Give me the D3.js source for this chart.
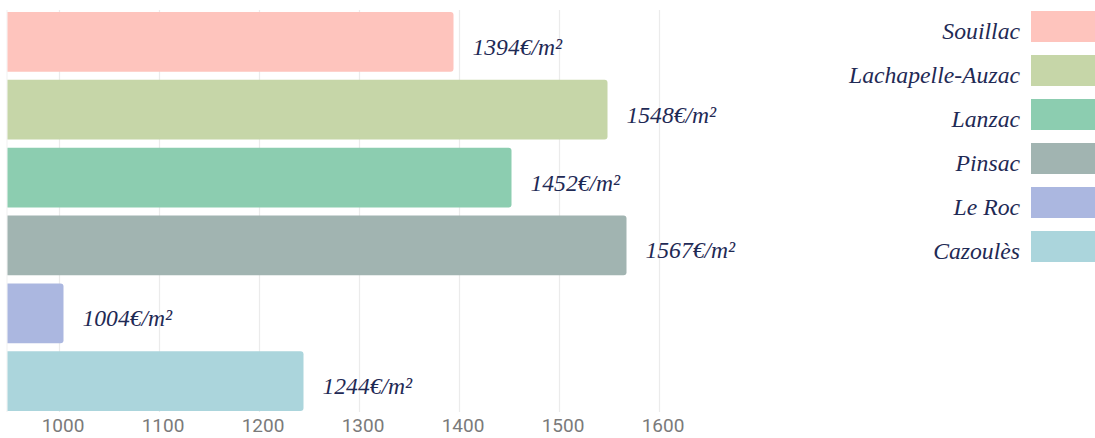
<!DOCTYPE html>
<html>
<head>
<meta charset="utf-8">
<script src="https://cdn.jsdelivr.net/npm/d3@7"></script>
<style>
  html, body { margin: 0; padding: 0; background: #ffffff; }
  svg { display: block; }
</style>
</head>
<body>
<svg id="chart" width="1095" height="438"></svg>
<script>
// Average price per square metre by commune
const communes = ["Souillac", "Lachapelle-Auzac", "Lanzac", "Pinsac", "Le Roc", "Cazoulès"];
const prices = [1394, 1548, 1452, 1567, 1004, 1244];
const colors = ["#fec4bd", "#c6d6a8", "#8ccdb0", "#a1b4b1", "#abb7e0", "#abd5dc"];
const tickValues = [1000, 1100, 1200, 1300, 1400, 1500, 1600];
const unit = "€/m²";

const svg = d3.select("#chart");
const textColor = "#1f2a55";
const serif = "'Liberation Serif', 'DejaVu Serif', serif";

const x = d3.scaleLinear().domain([948, 1680]).range([7.5, 739.5]);
const y = d3.scaleBand().domain(communes).range([12, 411]).paddingInner(0.12).paddingOuter(0);

// vertical gridlines
const grid = svg.append("g");
grid.selectAll("line.grid")
  .data(tickValues)
  .join("line")
  .attr("class", "grid")
  .attr("x1", d => x(d)).attr("x2", d => x(d))
  .attr("y1", 10).attr("y2", 412)
  .attr("stroke", "#ebebeb").attr("stroke-width", 1.2);
grid.append("line")
  .attr("x1", x.range()[0] - 0.5).attr("x2", x.range()[0] - 0.5)
  .attr("y1", 10).attr("y2", 412)
  .attr("stroke", "#f1f1f1").attr("stroke-width", 1);

// bars with rounded right end
const r = 3;
function barPath(x0, x1, y0, h) {
  return `M${x0},${y0}H${x1 - r}Q${x1},${y0} ${x1},${y0 + r}V${y0 + h - r}Q${x1},${y0 + h} ${x1 - r},${y0 + h}H${x0}Z`;
}
svg.append("g").selectAll("path")
  .data(communes)
  .join("path")
  .attr("d", (c, i) => barPath(x.range()[0], x(prices[i]), y(c), y.bandwidth()))
  .attr("fill", (c, i) => colors[i]);

// value labels
svg.append("g").selectAll("text")
  .data(communes)
  .join("text")
  .attr("x", (c, i) => x(prices[i]) + 19)
  .attr("y", c => y(c) + y.bandwidth() / 2 + 13)
  .attr("font-family", serif)
  .attr("font-style", "italic")
  .attr("font-size", 23.6)
  .attr("fill", textColor)
  .text((c, i) => prices[i] + unit);

// bottom axis
const axis = d3.axisBottom(x).tickValues(tickValues).tickSize(0).tickPadding(0).tickFormat(d3.format("d"));
const axisG = svg.append("g").attr("transform", "translate(0,418)").call(axis);
axisG.select(".domain").remove();
axisG.selectAll("text")
  .attr("dx", 3)
  .attr("dy", "0.71em")
  .attr("font-family", "Roboto, 'Open Sans', sans-serif")
  .attr("font-size", 19)
  .attr("fill", "#7a7a7a");

// legend
const legend = svg.append("g");
const item = legend.selectAll("g")
  .data(communes)
  .join("g")
  .attr("transform", (c, i) => `translate(0,${11 + i * 44})`);
item.append("rect")
  .attr("x", 1031).attr("y", 0)
  .attr("width", 64).attr("height", 31)
  .attr("fill", (c, i) => colors[i]);
item.append("text")
  .attr("x", 1020).attr("y", 28)
  .attr("text-anchor", "end")
  .attr("font-family", serif)
  .attr("font-style", "italic")
  .attr("font-size", 23.7)
  .attr("fill", textColor)
  .text(c => c);
</script>
</body>
</html>
